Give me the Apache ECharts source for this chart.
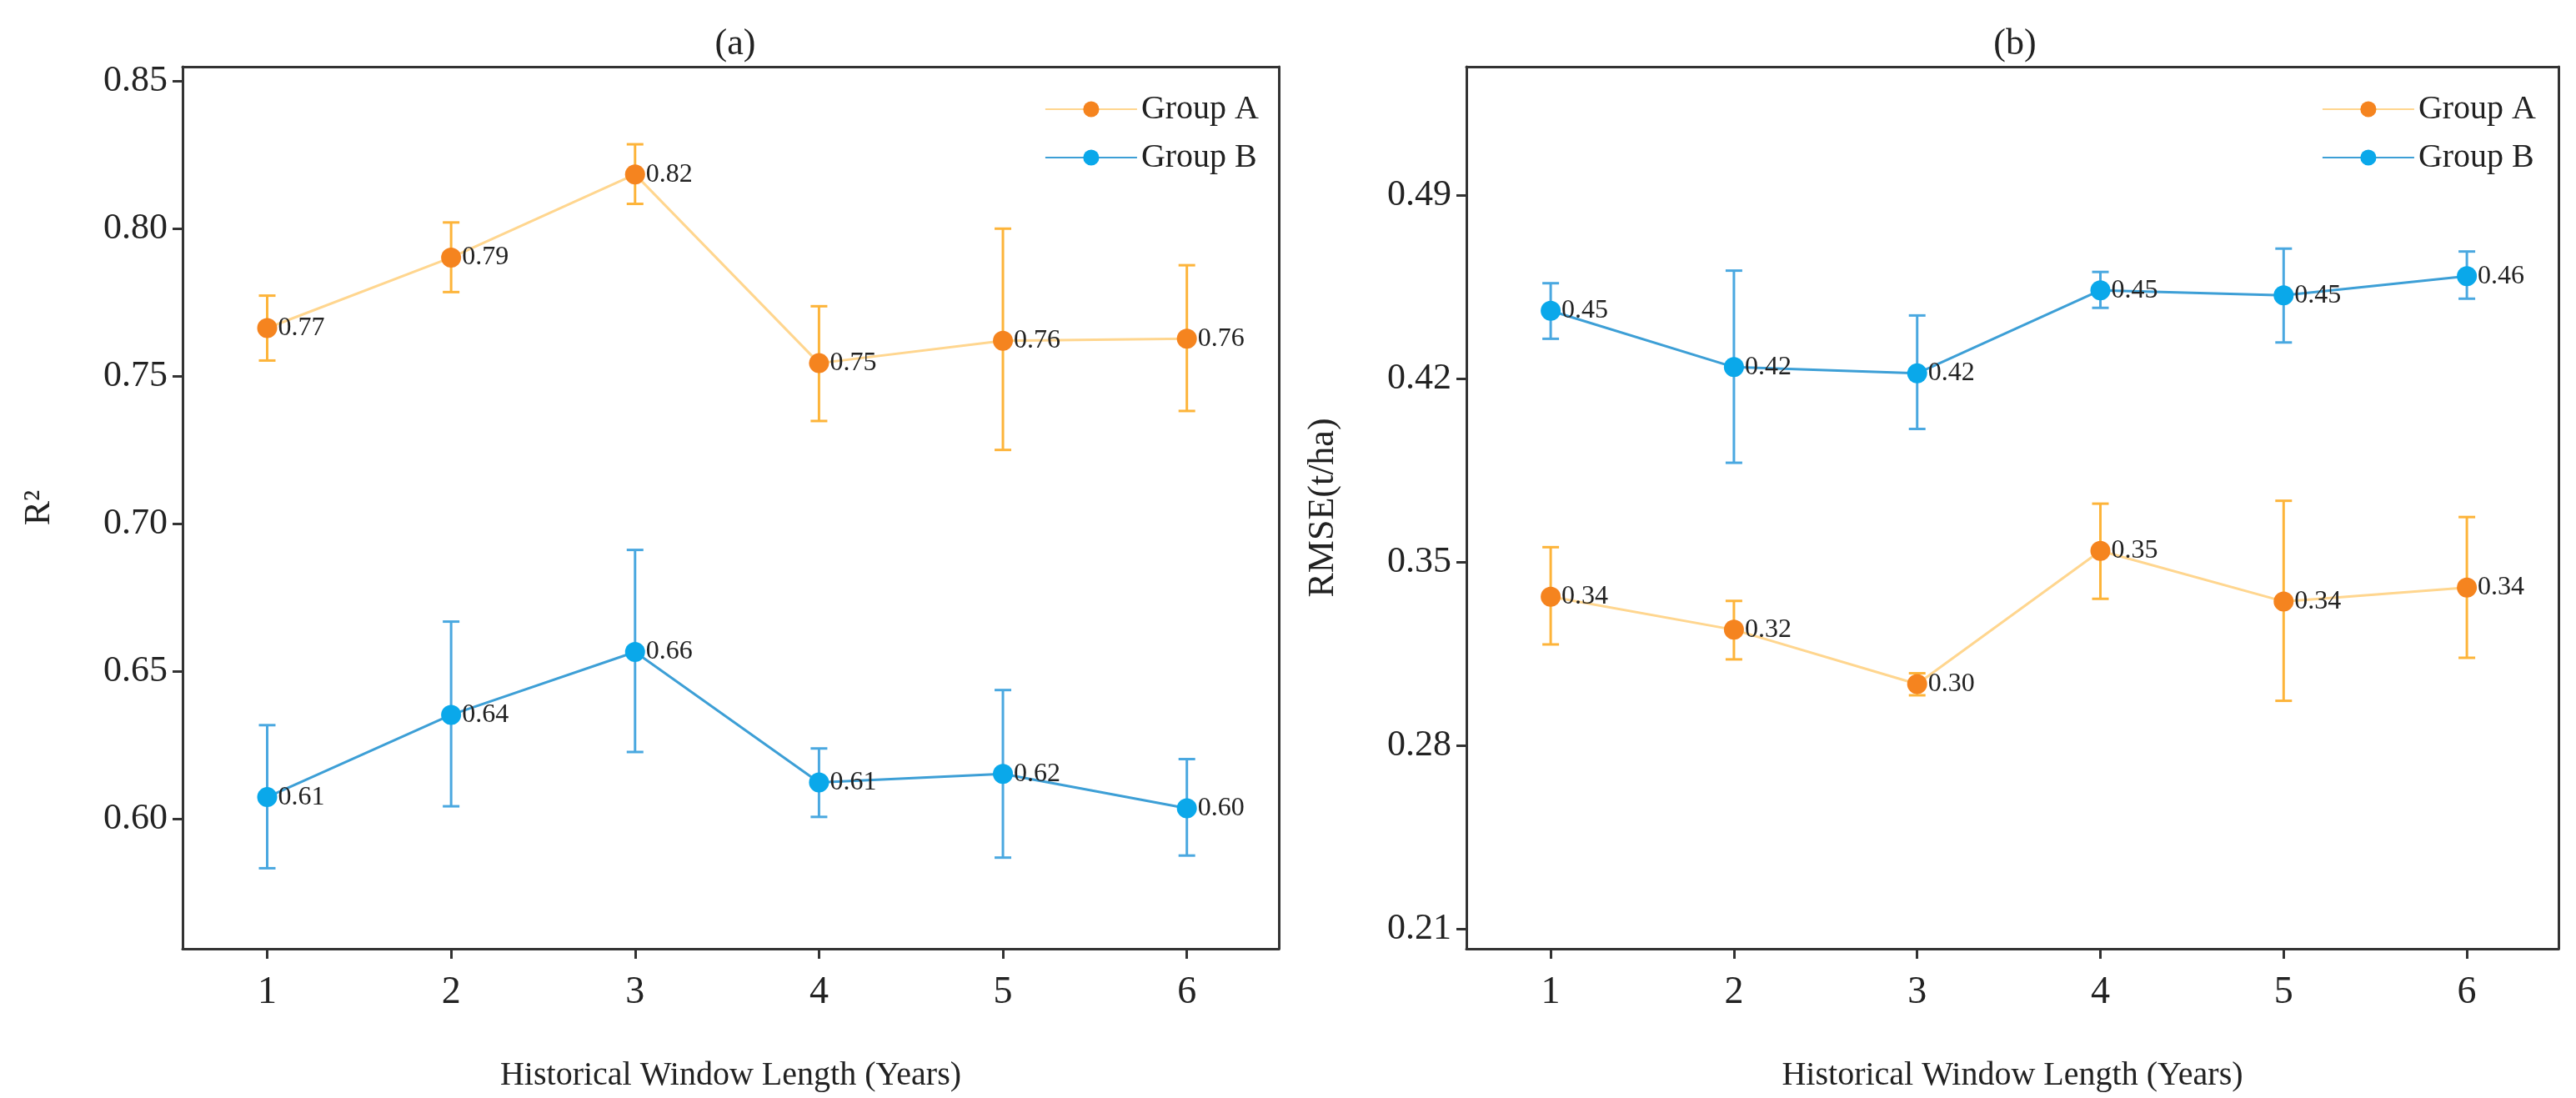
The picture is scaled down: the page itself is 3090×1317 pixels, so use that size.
<!DOCTYPE html>
<html>
<head>
<meta charset="utf-8">
<script src="https://cdn.jsdelivr.net/npm/echarts@6/dist/echarts.min.js"></script>
<style>html,body{margin:0;background:#fff}#chart{width:3090px;height:1317px}</style>
</head>
<body>
<div id="chart"></div>
<script>
var years = [1, 2, 3, 4, 5, 6];

// (a) R2
var r2A = [0.7664, 0.7903, 0.8185, 0.7545, 0.7621, 0.7628];
var r2ALow = [0.7554, 0.7786, 0.8085, 0.7349, 0.7251, 0.7383];
var r2AHigh = [0.7774, 0.8022, 0.8287, 0.7738, 0.8001, 0.7877];
var r2ALabels = ["0.77", "0.79", "0.82", "0.75", "0.76", "0.76"];
var r2B = [0.6074, 0.6353, 0.6566, 0.6124, 0.6153, 0.6036];
var r2BLow = [0.5833, 0.6043, 0.6227, 0.6007, 0.5869, 0.5876];
var r2BHigh = [0.6318, 0.6669, 0.6912, 0.6239, 0.6437, 0.6203];
var r2BLabels = ["0.61", "0.64", "0.66", "0.61", "0.62", "0.60"];
var r2Ticks = [0.60, 0.65, 0.70, 0.75, 0.80, 0.85];

// (b) RMSE
var rmseA = [0.3368, 0.3242, 0.3035, 0.3543, 0.3350, 0.3403];
var rmseALow = [0.3186, 0.3129, 0.2992, 0.3360, 0.2971, 0.3135];
var rmseAHigh = [0.3557, 0.3352, 0.3076, 0.3723, 0.3734, 0.3672];
var rmseALabels = ["0.34", "0.32", "0.30", "0.35", "0.34", "0.34"];
var rmseB = [0.4459, 0.4244, 0.4220, 0.4537, 0.4518, 0.4591];
var rmseBLow = [0.4352, 0.3879, 0.4008, 0.4470, 0.4338, 0.4505];
var rmseBHigh = [0.4564, 0.4612, 0.4441, 0.4607, 0.4696, 0.4685];
var rmseBLabels = ["0.45", "0.42", "0.42", "0.45", "0.45", "0.46"];
var rmseTicks = [0.21, 0.28, 0.35, 0.42, 0.49];

var FONT = "Liberation Serif";
var colA = {line: "#FFD68F", dot: "#F5841F", err: "#FDB43A"};
var colB = {line: "#3D9FD6", dot: "#0AA8EA", err: "#4AA8E0"};

function pts(vals) {
  return years.map(function (x, i) { return [x, vals[i]]; });
}

function lineSeries(name, vals, labels, col, idx) {
  return {
    name: name, type: "line", xAxisIndex: idx, yAxisIndex: idx,
    data: pts(vals), symbol: "circle", symbolSize: 24, z: 5,
    lineStyle: {color: col.line, width: 3},
    itemStyle: {color: col.dot},
    label: {
      show: true, position: "right", distance: 1,
      fontFamily: FONT, fontSize: 32, color: "#222",
      formatter: function (p) { return labels[p.dataIndex]; }
    }
  };
}

function errSeries(low, high, col, idx) {
  return {
    type: "custom", xAxisIndex: idx, yAxisIndex: idx, z: 3, silent: true,
    data: years.map(function (x, i) { return [x, low[i], high[i]]; }),
    renderItem: function (params, api) {
      var lo = api.coord([api.value(0), api.value(1)]);
      var hi = api.coord([api.value(0), api.value(2)]);
      var w = 10;
      var st = {stroke: col.err, lineWidth: 3};
      return {
        type: "group", children: [
          {type: "line", shape: {x1: lo[0], y1: lo[1], x2: hi[0], y2: hi[1]}, style: st},
          {type: "line", shape: {x1: lo[0] - w, y1: lo[1], x2: lo[0] + w, y2: lo[1]}, style: st},
          {type: "line", shape: {x1: hi[0] - w, y1: hi[1], x2: hi[0] + w, y2: hi[1]}, style: st}
        ]
      };
    }
  };
}

function xAxis(idx) {
  return {
    type: "value", gridIndex: idx, min: 0.54, max: 6.5,
    name: "Historical Window Length (Years)", nameLocation: "middle", nameGap: 132,
    nameTextStyle: {fontFamily: FONT, fontSize: 40, color: "#222"},
    axisLine: {show: true, lineStyle: {color: "#333", width: 3}},
    axisTick: {show: true, length: 12, customValues: years, lineStyle: {color: "#333", width: 3}},
    axisLabel: {customValues: years, fontFamily: FONT, fontSize: 46, color: "#222", margin: 30},
    splitLine: {show: false}
  };
}

function yAxis(idx, min, max, ticks, name) {
  return {
    type: "value", gridIndex: idx, min: min, max: max,
    name: name, nameLocation: "middle", nameGap: 150,
    nameTextStyle: {fontFamily: FONT, fontSize: 44, color: "#222"},
    axisLine: {show: true, lineStyle: {color: "#333", width: 3}},
    axisTick: {show: true, length: 12, customValues: ticks, lineStyle: {color: "#333", width: 3}},
    axisLabel: {
      customValues: ticks, fontFamily: FONT, fontSize: 44, color: "#222", margin: 18,
      formatter: function (v) { return v.toFixed(2); }
    },
    splitLine: {show: false}
  };
}

function boxAxes(idx) {
  return [
    {type: "value", gridIndex: idx, position: "top", axisLine: {show: true, onZero: false, lineStyle: {color: "#333", width: 3}},
      axisTick: {show: false}, axisLabel: {show: false}, splitLine: {show: false}},
    {type: "value", gridIndex: idx, position: "right", axisLine: {show: true, onZero: false, lineStyle: {color: "#333", width: 3}},
      axisTick: {show: false}, axisLabel: {show: false}, splitLine: {show: false}}
  ];
}

var chart = echarts.init(document.getElementById("chart"));
var b0 = boxAxes(0), b1 = boxAxes(1);
chart.setOption({
  animation: false,
  backgroundColor: "#fff",
  title: [
    {text: "(a)", left: 877, top: 26, textAlign: "center", textStyle: {fontFamily: FONT, fontSize: 44, fontWeight: "normal", color: "#222"}},
    {text: "(b)", left: 2412, top: 26, textAlign: "center", textStyle: {fontFamily: FONT, fontSize: 44, fontWeight: "normal", color: "#222"}}
  ],
  legend: [
    {data: ["Group A", "Group B"], right: 1575, top: 106, orient: "vertical", itemGap: 18, itemWidth: 110, itemHeight: 24,
      textStyle: {fontFamily: FONT, fontSize: 40, color: "#222"}},
    {data: ["Group A", "Group B"], right: 43, top: 106, orient: "vertical", itemGap: 18, itemWidth: 110, itemHeight: 24,
      textStyle: {fontFamily: FONT, fontSize: 40, color: "#222"}}
  ],
  grid: [
    {left: 219, top: 80, width: 1315, height: 1058},
    {left: 1759, top: 80, width: 1310, height: 1058}
  ],
  xAxis: [xAxis(0), xAxis(1), b0[0], b1[0]],
  yAxis: [
    yAxis(0, 0.556, 0.855, r2Ticks, "R²"),
    yAxis(1, 0.2025, 0.539, rmseTicks, "RMSE(t/ha)"),
    b0[1], b1[1]
  ],
  series: [
    errSeries(r2ALow, r2AHigh, colA, 0),
    errSeries(r2BLow, r2BHigh, colB, 0),
    lineSeries("Group A", r2A, r2ALabels, colA, 0),
    lineSeries("Group B", r2B, r2BLabels, colB, 0),
    errSeries(rmseALow, rmseAHigh, colA, 1),
    errSeries(rmseBLow, rmseBHigh, colB, 1),
    lineSeries("Group A", rmseA, rmseALabels, colA, 1),
    lineSeries("Group B", rmseB, rmseBLabels, colB, 1)
  ]
});
</script>
</body>
</html>
